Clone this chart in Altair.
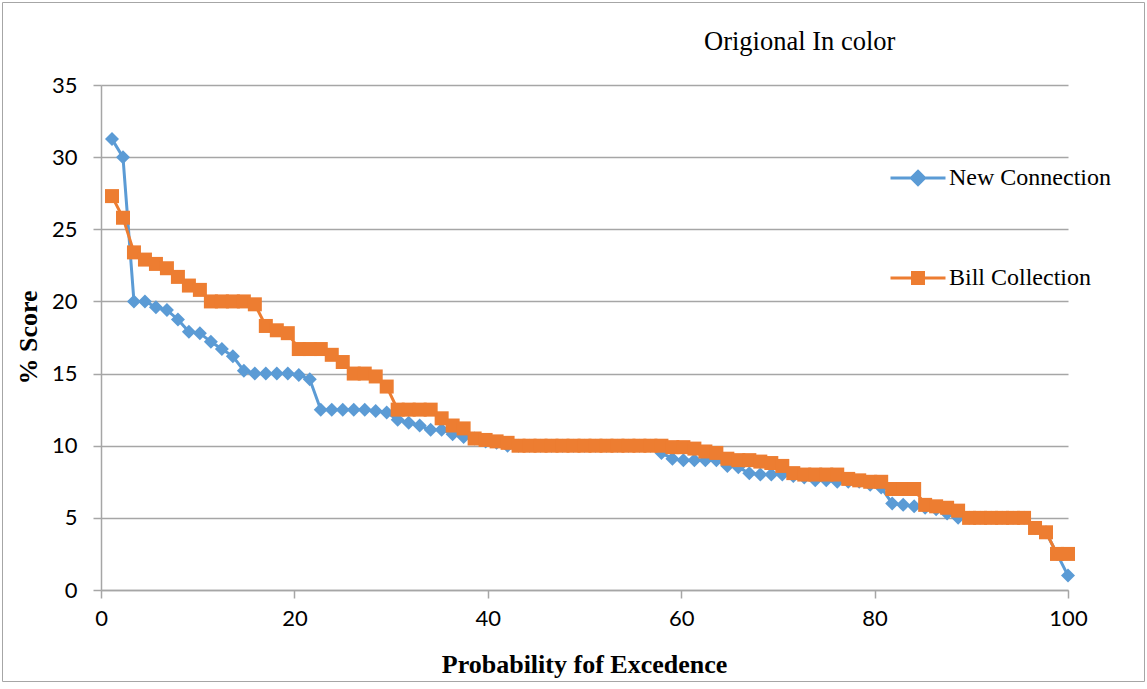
import altair as alt
import pandas as pd

# Ranked scores per service, highest first; exceedance = rank / n * 100
N_POINTS = 88

new_connection = [
    31.25, 30.0, 20.0, 20.0, 19.6, 19.4, 18.75, 17.9, 17.8, 17.2,
    16.7, 16.2, 15.2, 15.0, 15.0, 15.0, 15.0, 14.9, 14.6, 12.5,
    12.5, 12.5, 12.5, 12.5, 12.4, 12.3, 11.8, 11.6, 11.4, 11.1,
    11.1, 10.8, 10.6, 10.5, 10.3, 10.2, 10.0, 10.0, 10.0, 10.0,
    10.0, 10.0, 10.0, 10.0, 10.0, 10.0, 10.0, 10.0, 10.0, 10.0,
    9.5, 9.1, 9.0, 9.0, 9.0, 9.0, 8.6, 8.5, 8.1, 8.0,
    8.0, 8.0, 7.9, 7.8, 7.6, 7.6, 7.5, 7.5, 7.5, 7.3,
    7.1, 6.0, 5.9, 5.8, 5.7, 5.6, 5.3, 5.0, 5.0, 5.0,
    5.0, 5.0, 5.0, 5.0, 4.3, 4.0, 2.5, 1.0,
]

bill_collection = [
    27.3, 25.8, 23.4, 22.9, 22.6, 22.3, 21.7, 21.1, 20.8, 20.0,
    20.0, 20.0, 20.0, 19.8, 18.3, 18.0, 17.8, 16.7, 16.7, 16.7,
    16.3, 15.8, 15.0, 15.0, 14.8, 14.1, 12.5, 12.5, 12.5, 12.5,
    11.9, 11.4, 11.2, 10.5, 10.4, 10.3, 10.2, 10.0, 10.0, 10.0,
    10.0, 10.0, 10.0, 10.0, 10.0, 10.0, 10.0, 10.0, 10.0, 10.0,
    10.0, 9.9, 9.9, 9.8, 9.6, 9.5, 9.1, 9.0, 9.0, 8.9,
    8.8, 8.6, 8.1, 8.0, 8.0, 8.0, 8.0, 7.7, 7.6, 7.5,
    7.5, 7.0, 7.0, 7.0, 5.9, 5.8, 5.7, 5.5, 5.0, 5.0,
    5.0, 5.0, 5.0, 5.0, 4.3, 4.0, 2.5, 2.5,
]

series_names = ["New Connection", "Bill Collection"]
series_values = [new_connection, bill_collection]
series_colors = ["#5B9BD5", "#ED7D31"]
series_shapes = ["diamond", "square"]

x_ticks = [0, 20, 40, 60, 80, 100]
y_ticks = [0, 5, 10, 15, 20, 25, 30, 35]

rows = []
for name, values in zip(series_names, series_values):
    for rank, score in enumerate(values, start=1):
        rows.append({
            "series": name,
            "legend": name,
            "rank": rank,
            "prob": rank * 100 / N_POINTS,
            "score": score,
        })
df = pd.DataFrame(rows)

SERIF = "Liberation Serif"
SANS = "Lato"
GRID = "#a6a6a6"

x_enc = alt.X(
    "prob:Q",
    scale=alt.Scale(domain=[0, 100], nice=False),
    axis=alt.Axis(
        values=x_ticks, grid=False, title="Probability fof Excedence",
        titleX=483, titleY=74, titleBaseline="middle",
        labelPadding=10, labelFlush=False,
    ),
)
y_enc = alt.Y(
    "score:Q",
    scale=alt.Scale(domain=[0, 35], nice=False),
    axis=alt.Axis(
        values=y_ticks, title="% Score",
        titleX=-73, titleY=252, titleAngle=-90, titleAlign="center",
        titleBaseline="middle", labelPadding=16,
    ),
)

layers = []
for name, color, shape in zip(series_names, series_colors, series_shapes):
    base = alt.Chart(df).transform_filter(alt.datum.series == name)
    layers.append(
        base.mark_line(color=color, strokeWidth=3).encode(
            x=x_enc, y=y_enc, order="rank:Q"
        )
    )
    layers.append(
        base.mark_point(filled=True, shape=shape, size=196, color=color,
                        opacity=1, strokeWidth=0).encode(x=x_enc, y=y_enc)
    )

# Legend symbols: a line segment with the series marker across its middle
diamond_sym = "M-1,0L1,0M0,-0.24L0.24,0L0,0.24L-0.24,0Z"
square_sym = "M-1,0L1,0M-0.2,-0.2L0.2,-0.2L0.2,0.2L-0.2,0.2Z"
legend_def = alt.Legend(
    title=None, orient="none", legendX=788, legendY=64,
    symbolSize=3025, symbolStrokeWidth=3, symbolOpacity=1,
    labelFont=SERIF, labelFontSize=24, labelColor="#000000",
    labelOffset=2, labelLimit=0, rowPadding=58,
)
legend_layer = alt.Chart(df).mark_point(opacity=0, size=0).encode(
    x=x_enc, y=y_enc,
    fill=alt.Fill("legend:N", scale=alt.Scale(domain=series_names, range=series_colors),
                  legend=legend_def),
    stroke=alt.Stroke("legend:N", scale=alt.Scale(domain=series_names, range=series_colors),
                      legend=legend_def),
    shape=alt.Shape("legend:N", scale=alt.Scale(domain=series_names,
                                                range=[diamond_sym, square_sym]),
                    legend=legend_def),
)

# Thin frame around the whole chart area
frame = alt.Chart(pd.DataFrame({"f": [0]})).mark_rect(
    fillOpacity=0, stroke="#a6a6a6", strokeWidth=1
).encode(
    x=alt.value(-98.5), x2=alt.value(1043.5),
    y=alt.value(-82.5), y2=alt.value(596.5),
)

chart = alt.layer(frame, *layers, legend_layer).properties(
    width=967,
    height=505,
    padding={"left": 101, "top": 85, "right": 79, "bottom": 99},
    autosize=alt.AutoSizeParams(type="none"),
    background="#ffffff",
    title=alt.TitleParams(
        "Origional In color", anchor="start", dx=603, dy=83, offset=30,
        frame="group",
        font=SERIF, fontSize=26.5, fontWeight="normal", color="#000000",
    ),
).configure_view(stroke=None).configure_axis(
    domainColor=GRID, domainWidth=1.5, gridColor=GRID, gridWidth=1.5,
    tickColor=GRID, tickWidth=1.5, tickSize=8,
    labelFont=SANS, labelFontSize=22, labelColor="#000000",
    titleFont=SERIF, titleFontSize=26, titleFontWeight="bold", titleColor="#000000",
)

chart.save("out.html", embed_options={"renderer": "svg", "actions": False})
